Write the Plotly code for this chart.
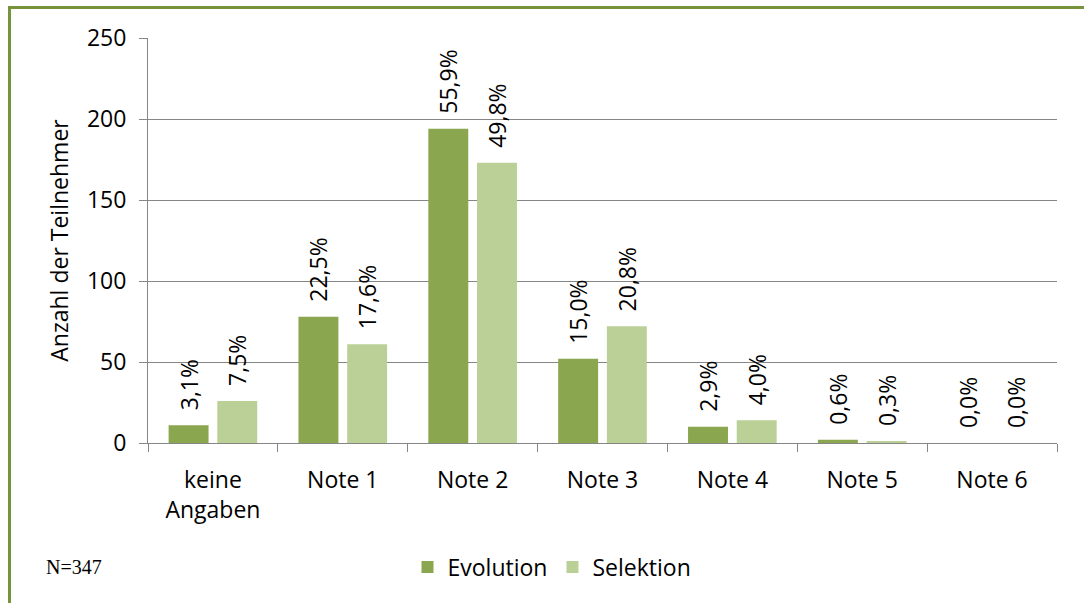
import plotly.graph_objects as go

categories = ["keine<br>Angaben", "Note 1", "Note 2", "Note 3", "Note 4", "Note 5", "Note 6"]
evolution = [11, 78, 194, 52, 10, 2, 0]
selektion = [26, 61, 173, 72, 14, 1, 0]
evolution_pct = ["3,1%", "22,5%", "55,9%", "15,0%", "2,9%", "0,6%", "0,0%"]
selektion_pct = ["7,5%", "17,6%", "49,8%", "20,8%", "4,0%", "0,3%", "0,0%"]
y_ticks = [0, 50, 100, 150, 200, 250]

FONT = "Open Sans"
FS = 23
W, H = 1084, 603
ML, MR, MT, MB = 148, 27, 38, 160
PW, PH = W - ML - MR, H - MT - MB


def px_x(x):
    return (x - ML) / PW


def px_y(y):
    return (H - MB - y) / PH


fig = go.Figure()
fig.add_bar(name="Evolution", x=categories, y=evolution, text=evolution_pct,
            texttemplate="\u00a0\u00a0%{text}",
            marker=dict(color="#8aa64f", line=dict(width=0)),
            textposition="outside", textangle=-90, constraintext="none",
            textfont=dict(family=FONT, size=FS, color="#000"), cliponaxis=False)
fig.add_bar(name="Selektion", x=categories, y=selektion, text=selektion_pct,
            texttemplate="\u00a0\u00a0%{text}",
            marker=dict(color="#bbd097", line=dict(width=0)),
            textposition="outside", textangle=-90, constraintext="none",
            textfont=dict(family=FONT, size=FS, color="#000"), cliponaxis=False)

fig.update_layout(
    width=W, height=H,
    margin=dict(l=ML, r=MR, t=MT, b=MB),
    paper_bgcolor="white", plot_bgcolor="white",
    barmode="group", bargap=0.25, bargroupgap=0.18,
    font=dict(family=FONT, size=FS, color="#000"),
    showlegend=True,
    legend=dict(orientation="h", x=px_x(552), xanchor="center", y=px_y(567), yanchor="middle",
                font=dict(family=FONT, size=FS), itemsizing="constant", traceorder="normal",
                itemwidth=30),
    xaxis=dict(showgrid=False, showline=True, linecolor="#868686", linewidth=1,
               ticks="outside", tickson="boundaries", ticklen=8, tickcolor="#868686",
               ticklabelstandoff=16, tickfont=dict(family=FONT, size=FS)),
    yaxis=dict(range=[0, 250], tickvals=y_ticks, showgrid=True, gridcolor="#868686", gridwidth=1,
               showline=True, linecolor="#868686", linewidth=1, zeroline=False,
               ticks="outside", ticklen=8, tickcolor="#868686",
               ticklabelstandoff=8,
               tickfont=dict(family=FONT, size=FS),
               title=dict(text="Anzahl der Teilnehmer", font=dict(family=FONT, size=FS), standoff=11)),
    shapes=[
        dict(type="line", xref="paper", yref="paper", x0=px_x(9.5), x1=px_x(9.5), y0=px_y(6), y1=px_y(610),
             line=dict(color="#77933c", width=3)),
        dict(type="line", xref="paper", yref="paper", x0=px_x(8), x1=px_x(1090), y0=px_y(7.5), y1=px_y(7.5),
             line=dict(color="#77933c", width=3)),
    ],
    annotations=[
        dict(text="N=347", xref="paper", yref="paper", x=px_x(74), y=px_y(567), xanchor="center",
             yanchor="middle", showarrow=False, font=dict(family="Liberation Serif", size=20, color="#000")),
    ],
)

fig.write_html("out.html")
